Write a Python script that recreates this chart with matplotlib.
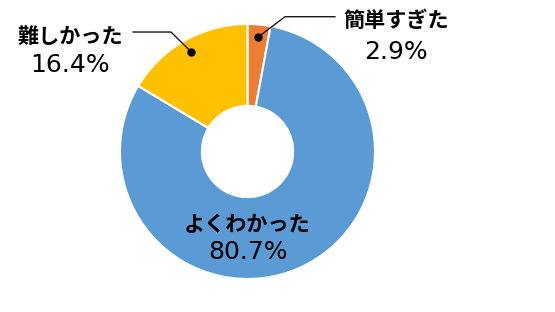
import numpy as np
import matplotlib
matplotlib.use("Agg")
import matplotlib.pyplot as plt

categories = ["簡単すぎた", "よくわかった", "難しかった"]
values = [2.9, 80.7, 16.4]
pct_labels = ["2.9%", "80.7%", "16.4%"]
colors = ["#ED7D31", "#5B9BD5", "#FFC000"]

plt.rcParams['font.family'] = ['Noto Sans CJK JP', 'DejaVu Sans']

fig = plt.figure(figsize=(5.55, 3.12), dpi=100)
ax = fig.add_axes([0.2162, 0.1058, 0.4595, 0.8173])
wedges, _ = ax.pie(values, colors=colors, startangle=90, counterclock=False,
                   radius=1.0, wedgeprops=dict(width=0.642, edgecolor="white", linewidth=1.5))
ax.set_aspect('auto')
ax.set_xlim(-1, 1)
ax.set_ylim(-1, 1)
ax.axis('off')

fs = 15.2
fs_num = 18
num_font = ['DejaVu Sans']
# mid angles
cum = np.cumsum([0] + values[:-1])
total = sum(values)
mids = [90 - (c + v / 2) / total * 360 for c, v in zip(cum, values)]

# 簡単すぎた (outside, right)
a = np.deg2rad(mids[0])
dx, dy = 0.9 * np.cos(a), 0.9 * np.sin(a)
ax.plot([dx, 0.294, 0.686], [dy, 1.057, 1.057], color="black", lw=0.9, clip_on=False)
ax.plot(dx, dy, 'o', color="black", ms=5, clip_on=False)
ax.text(1.165, 1.024, categories[0], ha='center', va='center', fontsize=fs, fontweight='bold', clip_on=False)
ax.text(1.165, 0.784, pct_labels[0], ha='center', va='center', fontsize=fs_num, family=num_font, clip_on=False)

# 難しかった (outside, left)
a = np.deg2rad(mids[2])
dx, dy = 0.9 * np.cos(a), 0.9 * np.sin(a)
ax.plot([dx, -0.6, -0.898], [dy, 0.937, 0.937], color="black", lw=0.9, clip_on=False)
ax.plot(dx, dy, 'o', color="black", ms=5, clip_on=False)
ax.text(-1.392, 0.906, categories[2], ha='center', va='center', fontsize=fs, fontweight='bold', clip_on=False)
ax.text(-1.392, 0.678, pct_labels[2], ha='center', va='center', fontsize=fs_num, family=num_font, clip_on=False)

# よくわかった (inside)
ax.text(0.0, -0.576, categories[1], ha='center', va='center', fontsize=fs, fontweight='bold')
ax.text(0.0, -0.792, pct_labels[1], ha='center', va='center', fontsize=fs_num, family=num_font)

fig.savefig("out.png", dpi=100, facecolor="white")
